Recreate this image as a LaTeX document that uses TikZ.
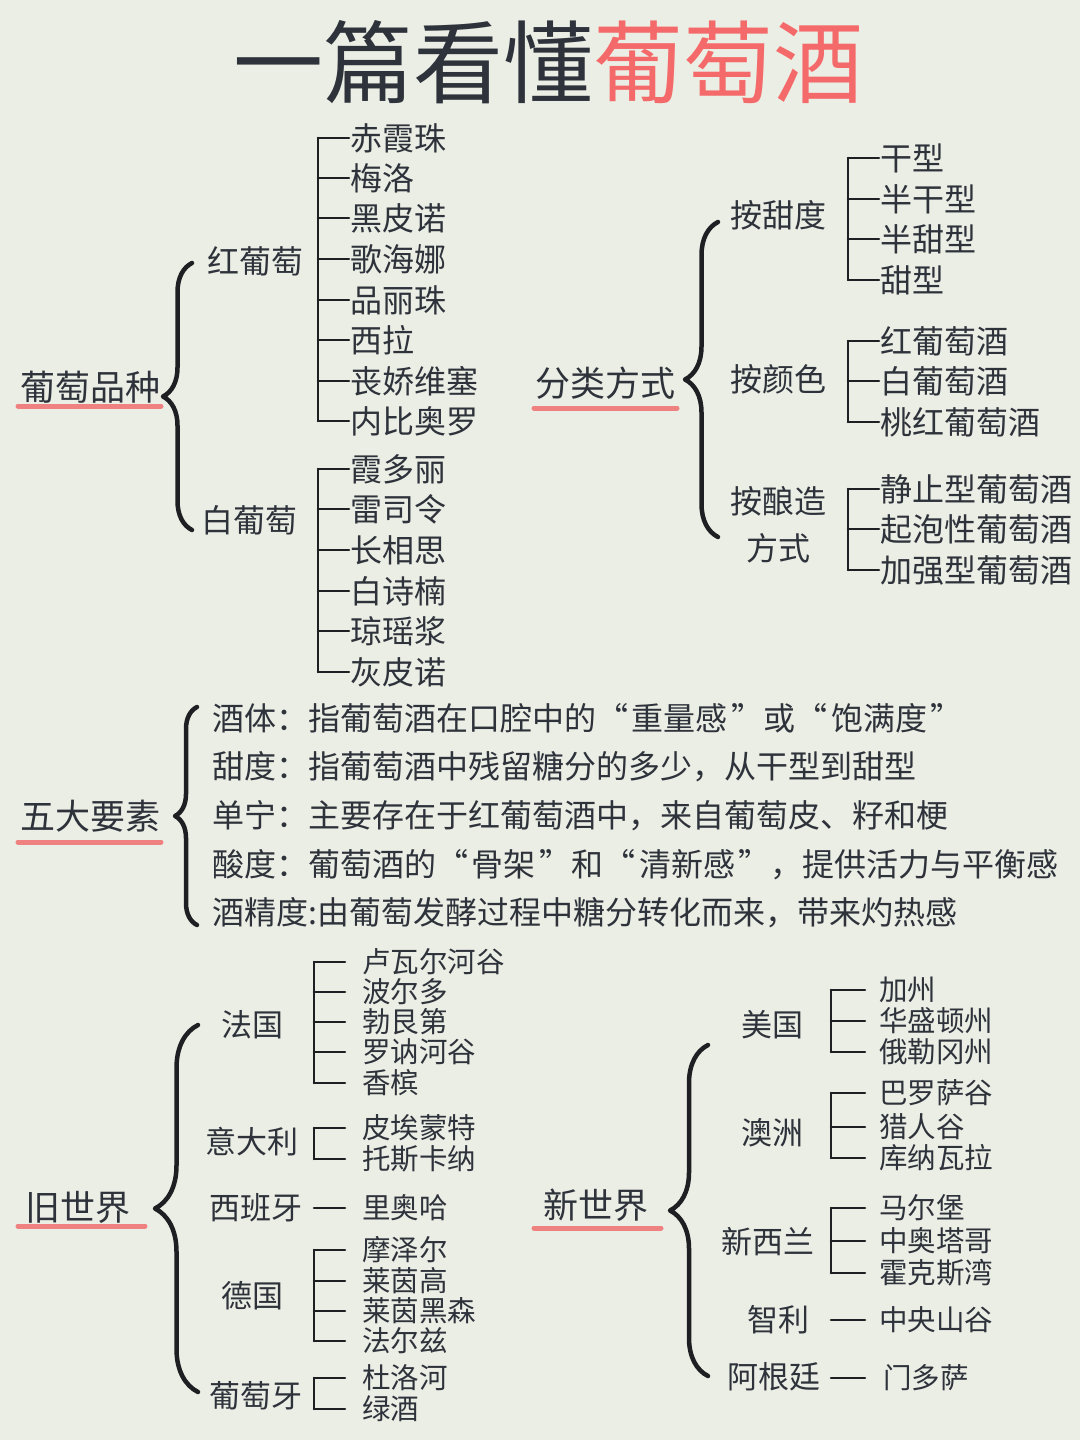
\documentclass[tikz,border=0pt]{standalone}
\usepackage{fontspec}
\setmainfont{Noto Sans CJK SC}
\usetikzlibrary{decorations.pathreplacing}
\definecolor{wnBg}{HTML}{EBEEE4}
\definecolor{wnText}{HTML}{2E323B}
\definecolor{wnLine}{HTML}{1E1F22}
\definecolor{wnRed}{HTML}{F46A6A}
\definecolor{wnPink}{HTML}{EF8181}
\newcommand{\yin}[1]{“\hspace{3.7pt}#1\hspace{3.7pt}”}

\begin{document}
\begin{tikzpicture}[x=1pt, y=-1pt, line cap=round, line join=round,
    title/.style={text=wnText, font=\fontsize{90}{90}\selectfont, inner sep=0pt},
    head/.style={text=wnText, font=\fontsize{35}{35}\selectfont, inner sep=0pt},
    sub/.style={text=wnText, font=\fontsize{32}{47}\selectfont, inner sep=0pt},
    leaf/.style={text=wnText, font=\fontsize{32}{32}\selectfont, anchor=west, inner sep=1pt},
    land/.style={text=wnText, font=\fontsize{31}{31}\selectfont, inner sep=0pt},
    area/.style={text=wnText, font=\fontsize{28.5}{28.5}\selectfont, anchor=west, inner sep=0pt},
    tree/.style={wnLine, line width=2.6pt},
    curly/.style={decorate, decoration={brace, amplitude=#1}, wnLine, line width=4.5pt},
    uline/.style={wnPink, line width=5pt}]
    \useasboundingbox (0,0) rectangle (1080,1440);
    \fill[wnBg] (0,0) rectangle (1080,1440);

    % ── title ─────────────────────────────────────────────────────────────
    \node[title] (title) at (548,62) {一篇看懂\textcolor{wnRed}{葡萄酒}};

    % ── grape varieties ───────────────────────────────────────────────────
    \node[head] (pz) at (90,387) {葡萄品种};
    \draw[uline] (18,406) -- (161,406);
    \draw[curly=29pt] (192,530) -- (192,263);
    \node[sub] (hong) at (255,261) {红葡萄};
    \node[sub] (bai) at (249,520) {白葡萄};
    \coordinate (ps) at (318,0);
    \node[leaf] (h1) at (349,138) {赤霞珠};
    \node[leaf] (h2) at (349,178) {梅洛};
    \node[leaf] (h3) at (349,218) {黑皮诺};
    \node[leaf] (h4) at (349,259) {歌海娜};
    \node[leaf] (h5) at (349,300) {品丽珠};
    \node[leaf] (h6) at (349,340) {西拉};
    \node[leaf] (h7) at (349,381) {丧娇维塞};
    \node[leaf] (h8) at (349,421) {内比奥罗};
    \node[leaf] (b1) at (349,469) {霞多丽};
    \node[leaf] (b2) at (349,509) {雷司令};
    \node[leaf] (b3) at (349,550) {长相思};
    \node[leaf] (b4) at (349,591) {白诗楠};
    \node[leaf] (b5) at (349,631) {琼瑶浆};
    \node[leaf] (b6) at (349,672) {灰皮诺};
    \draw[tree] (ps |- h1.west) -- (ps |- h8.west);
    \draw[tree] (ps |- b1.west) -- (ps |- b6.west);
    \foreach \n in {h1,h2,h3,h4,h5,h6,h7,h8,b1,b2,b3,b4,b5,b6}
      \draw[tree] (ps |- \n.west) -- (\n.west);

    % ── ways of classifying ───────────────────────────────────────────────
    \node[head] (fl) at (605,383) {分类方式};
    \draw[uline] (534,408) -- (677,408);
    \draw[curly=33pt] (718,537) -- (718,222);
    \node[sub] (tian) at (778,215) {按甜度};
    \node[sub] (yan) at (778,379) {按颜色};
    \node[sub, align=center] (niang) at (778,525) {按酿造\\方式};
    \coordinate (cs) at (848,0);
    \node[leaf] (t1) at (879,158) {干型};
    \node[leaf] (t2) at (879,199) {半干型};
    \node[leaf] (t3) at (879,239) {半甜型};
    \node[leaf] (t4) at (879,280) {甜型};
    \node[leaf] (c1) at (879,341) {红葡萄酒};
    \node[leaf] (c2) at (879,381) {白葡萄酒};
    \node[leaf] (c3) at (879,422) {桃红葡萄酒};
    \node[leaf] (m1) at (879,489) {静止型葡萄酒};
    \node[leaf] (m2) at (879,529) {起泡性葡萄酒};
    \node[leaf] (m3) at (879,570) {加强型葡萄酒};
    \draw[tree] (cs |- t1.west) -- (cs |- t4.west);
    \draw[tree] (cs |- c1.west) -- (cs |- c3.west);
    \draw[tree] (cs |- m1.west) -- (cs |- m3.west);
    \foreach \n in {t1,t2,t3,t4,c1,c2,c3,m1,m2,m3}
      \draw[tree] (cs |- \n.west) -- (\n.west);

    % ── five elements ─────────────────────────────────────────────────────
    \node[head] (wd) at (90,816) {五大要素};
    \draw[uline] (18,842) -- (161,842);
    \draw[curly=22pt] (197,925) -- (197,707);
    \node[leaf] (f1) at (211,718) {酒体：指葡萄酒在口腔中的\yin{重量感}或\yin{饱满度}};
    \node[leaf] (f2) at (211,767) {甜度：指葡萄酒中残留糖分的多少，从干型到甜型};
    \node[leaf] (f3) at (211,816) {单宁：主要存在于红葡萄酒中，来自葡萄皮、籽和梗};
    \node[leaf] (f4) at (211,865) {酸度：葡萄酒的\yin{骨架}和\yin{清新感}，提供活力与平衡感};
    \node[leaf] (f5) at (211,913) {酒精度:由葡萄发酵过程中糖分转化而来，带来灼热感};

    % ── old world ─────────────────────────────────────────────────────────
    \node[head] (old) at (78,1207) {旧世界};
    \draw[uline] (18,1226) -- (145,1226);
    \draw[curly=43pt] (198,1392) -- (198,1025);
    \node[land] (fr) at (252,1025) {法国};
    \node[land] (it) at (252,1142) {意大利};
    \node[land] (es) at (256,1208) {西班牙};
    \node[land] (de) at (252,1296) {德国};
    \node[land] (pt) at (256,1396) {葡萄牙};
    \coordinate (os) at (314,0);
    \begin{scope}[area/.append style={outer xsep=17pt}]
      \node[area] (fr1) at (345,962) {卢瓦尔河谷};
      \node[area] (fr2) at (345,992) {波尔多};
      \node[area] (fr3) at (345,1022) {勃艮第};
      \node[area] (fr4) at (345,1052) {罗讷河谷};
      \node[area] (fr5) at (345,1083) {香槟};
      \node[area] (it1) at (345,1128) {皮埃蒙特};
      \node[area] (it2) at (345,1159) {托斯卡纳};
      \node[area] (es1) at (345,1208) {里奥哈};
      \node[area] (de1) at (345,1250) {摩泽尔};
      \node[area] (de2) at (345,1281) {莱茵高};
      \node[area] (de3) at (345,1311) {莱茵黑森};
      \node[area] (de4) at (345,1341) {法尔兹};
      \node[area] (pt1) at (345,1378) {杜洛河};
      \node[area] (pt2) at (345,1409) {绿酒};
    \end{scope}
    \draw[tree] (os |- fr1.west) -- (os |- fr5.west);
    \draw[tree] (os |- it1.west) -- (os |- it2.west);
    \draw[tree] (os |- de1.west) -- (os |- de4.west);
    \draw[tree] (os |- pt1.west) -- (os |- pt2.west);
    \foreach \n in {fr1,fr2,fr3,fr4,fr5,it1,it2,es1,de1,de2,de3,de4,pt1,pt2}
      \draw[tree] (os |- \n.west) -- (\n.west);

    % ── new world ─────────────────────────────────────────────────────────
    \node[head] (new) at (596,1205) {新世界};
    \draw[uline] (534,1228) -- (661,1228);
    \draw[curly=38pt] (708,1376) -- (708,1045);
    \node[land] (us) at (772,1025) {美国};
    \node[land] (au) at (772,1133) {澳洲};
    \node[land] (nz) at (768,1242) {新西兰};
    \node[land] (cl) at (778,1320) {智利};
    \node[land] (ar) at (774,1377) {阿根廷};
    \coordinate (ns) at (831,0);
    \begin{scope}[area/.append style={outer xsep=14pt}]
      \node[area] (us1) at (865,990) {加州};
      \node[area] (us2) at (865,1021) {华盛顿州};
      \node[area] (us3) at (865,1052) {俄勒冈州};
      \node[area] (au1) at (865,1093) {巴罗萨谷};
      \node[area] (au2) at (865,1127) {猎人谷};
      \node[area] (au3) at (865,1158) {库纳瓦拉};
      \node[area] (nz1) at (865,1208) {马尔堡};
      \node[area] (nz2) at (865,1241) {中奥塔哥};
      \node[area] (nz3) at (865,1273) {霍克斯湾};
      \node[area] (cl1) at (865,1320) {中央山谷};
      \node[area] (ar1) at (869,1378) {门多萨};
    \end{scope}
    \draw[tree] (ns |- us1.west) -- (ns |- us3.west);
    \draw[tree] (ns |- au1.west) -- (ns |- au3.west);
    \draw[tree] (ns |- nz1.west) -- (ns |- nz3.west);
    \foreach \n in {us1,us2,us3,au1,au2,au3,nz1,nz2,nz3,cl1}
      \draw[tree] (ns |- \n.west) -- (\n.west);
    \draw[tree] (ns |- ar1.west) -- ([xshift=-4pt]ar1.west);
\end{tikzpicture}
\end{document}
